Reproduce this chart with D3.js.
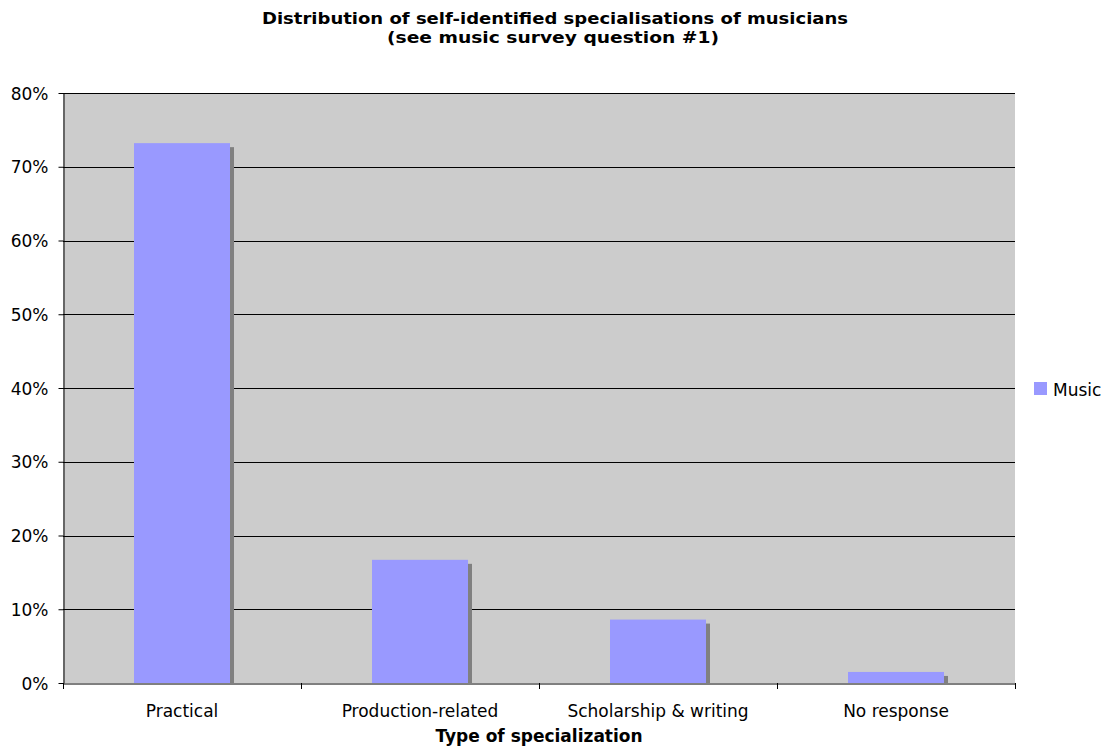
<!DOCTYPE html>
<html><head><meta charset="utf-8">
<script src="https://cdn.jsdelivr.net/npm/d3@7"></script>
<style>body{margin:0;background:#fff}svg{display:block}text{font-family:"DejaVu Sans",Verdana,sans-serif}</style>
</head><body>
<svg id="c" width="1109" height="752"></svg>
<script>
const categories = ["Practical","Production-related","Scholarship & writing","No response"];
const values = [73.2, 16.7, 8.6, 1.5];
const yTicks = [0,10,20,30,40,50,60,70,80];
const seriesName = "Music";
const titleLines = ["Distribution of self-identified specialisations of musicians","(see music survey question #1)"];
const xTitle = "Type of specialization";

const svg = d3.select("#c");
const L=63, R=1015, T=93, B=683;
const x = d3.scaleBand().domain(categories).range([L,R]).padding(0);
const y = d3.scaleLinear().domain([0,80]).range([B,T]);

svg.append("rect").attr("x",L).attr("y",T).attr("width",R-L).attr("height",B-T).attr("fill","#cccccc");
svg.append("g").selectAll("line").data(yTicks.filter(d=>d>0)).join("line")
  .attr("x1",L).attr("x2",R).attr("y1",d=>Math.round(y(d))+0.5).attr("y2",d=>Math.round(y(d))+0.5)
  .attr("stroke","#000").attr("stroke-width",1);

const bw = x.bandwidth()*0.4034;
const g = svg.append("g");
g.selectAll("rect.sh").data(values).join("rect").attr("class","sh")
  .attr("x",(d,i)=>x(categories[i])+(x.bandwidth()-bw)/2+4)
  .attr("y",d=>y(d)+4).attr("width",bw).attr("height",d=>B-y(d)-4).attr("fill","#808080");
g.selectAll("rect.bar").data(values).join("rect").attr("class","bar")
  .attr("x",(d,i)=>x(categories[i])+(x.bandwidth()-bw)/2)
  .attr("y",d=>y(d)).attr("width",bw).attr("height",d=>B-y(d)).attr("fill","#9999ff");

// axes
const ya = d3.axisLeft(y).tickValues(yTicks).tickFormat(d=>d+"%").tickSize(5).tickSizeOuter(0);
const yg = svg.append("g").attr("transform",`translate(${L+0.5},0)`).call(ya);
yg.select(".domain").attr("stroke","#000");
yg.selectAll(".tick text").attr("font-size",17).attr("fill","#000").attr("x",-15).attr("dy","0.36em").attr("font-family","DejaVu Sans");
yg.selectAll(".tick line").attr("stroke","#000");

const xa = d3.axisBottom(x).tickSize(0).tickSizeOuter(0);
const xg = svg.append("g").attr("transform",`translate(0,${B+0.5})`).call(xa);
xg.select(".domain").attr("stroke","#000");
xg.selectAll(".tick text").attr("font-size",17).attr("fill","#000").attr("y",33).attr("dy",0).attr("font-family","DejaVu Sans");
const bounds = categories.map(c=>x(c)).concat([R]);
svg.append("g").selectAll("line").data(bounds).join("line")
  .attr("x1",d=>Math.round(d)+0.5).attr("x2",d=>Math.round(d)+0.5).attr("y1",B).attr("y2",B+6).attr("stroke","#000");

// titles
svg.append("text").attr("x",555).attr("y",24).attr("text-anchor","middle").attr("font-size",16).attr("font-weight","bold")
  .attr("textLength",586).attr("lengthAdjust","spacingAndGlyphs").text(titleLines[0]);
svg.append("text").attr("x",553).attr("y",43).attr("text-anchor","middle").attr("font-size",16).attr("font-weight","bold")
  .attr("textLength",332).attr("lengthAdjust","spacingAndGlyphs").text(titleLines[1]);
svg.append("text").attr("x",539).attr("y",742).attr("text-anchor","middle").attr("font-size",17).attr("font-weight","bold").text(xTitle);

// legend
svg.append("rect").attr("x",1034).attr("y",382).attr("width",13).attr("height",13).attr("fill","#9999ff");
svg.append("text").attr("x",1053).attr("y",396).attr("font-size",17).text(seriesName);
</script>
</body></html>
